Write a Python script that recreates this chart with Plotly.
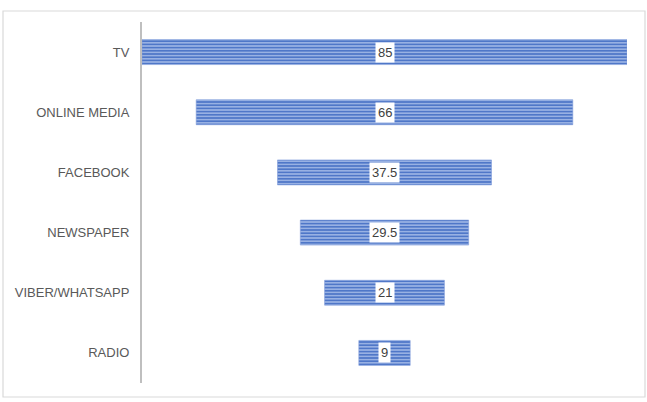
import plotly.graph_objects as go

# Share of respondents by information source
channels = ["TV", "ONLINE MEDIA", "FACEBOOK", "NEWSPAPER", "VIBER/WHATSAPP", "RADIO"]
values = [85, 66, 37.5, 29.5, 21, 9]
value_labels = ["85", "66", "37.5", "29.5", "21", "9"]

W, H = 647, 402
ML, MR, MT, MB = 142, 20, 22, 19

# centred (funnel-style) bars: each bar runs from -v to +v
fig = go.Figure(
    go.Bar(
        y=channels,
        x=[2 * v for v in values],
        base=[-v for v in values],
        orientation="h",
        marker=dict(
            color="#4A73C6",
            line=dict(color="#7F9CDA", width=0.6),
            pattern=dict(
                shape="-",
                bgcolor="#4F77C8",
                fgcolor="#A6BCE9",
                size=3.2,
                solidity=0.42,
                fillmode="replace",
            ),
        ),
        hoverinfo="skip",
    )
)

# value labels in white boxes at the centre of each bar
for ch, lab in zip(channels, value_labels):
    fig.add_annotation(
        x=0, y=ch, xref="x", yref="y",
        text=lab, showarrow=False,
        font=dict(family="Liberation Sans", size=13, color="#404040"),
        bgcolor="white", borderpad=2,
    )

pw = W - ML - MR
ph = H - MT - MB
# thin outer frame around the whole chart
fig.add_shape(
    type="rect", xref="paper", yref="paper",
    x0=(3 - ML) / pw, x1=(645 - ML) / pw,
    y0=(H - MB - 397) / ph, y1=(H - MB - 11) / ph,
    line=dict(color="#D9D9D9", width=1.2), fillcolor="rgba(0,0,0,0)",
    layer="below",
)

fig.update_layout(
    width=W, height=H,
    margin=dict(l=ML, r=MR, t=MT, b=MB),
    paper_bgcolor="white", plot_bgcolor="white",
    bargap=0.585,
    showlegend=False,
    xaxis=dict(range=[-85, 85], visible=False, fixedrange=True),
    yaxis=dict(
        categoryorder="array", categoryarray=channels, autorange="reversed",
        showline=True, linecolor="#BFBFBF", linewidth=2,
        showgrid=False, zeroline=False, ticks="",
        ticklabelstandoff=8,
        tickfont=dict(family="Liberation Sans", size=13, color="#595959"),
    ),
)

fig.write_html("out.html")
